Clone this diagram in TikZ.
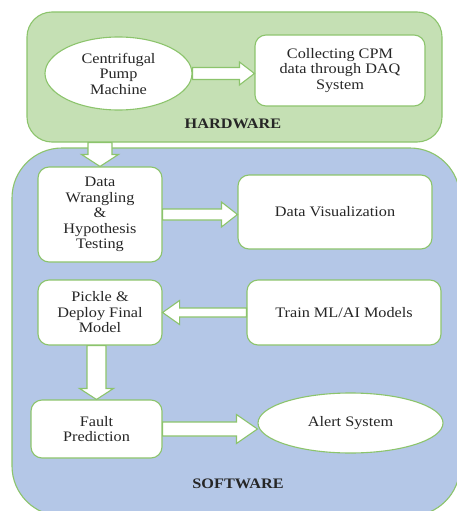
\documentclass[tikz,border=0pt]{standalone}
\usepackage{fontspec}
\setmainfont{Liberation Serif}[FakeStretch=1.12]
\usetikzlibrary{calc,shapes.geometric}

\definecolor{hwfill}{HTML}{C5E0B4}
\definecolor{swfill}{HTML}{B4C7E7}
\definecolor{edge}{HTML}{8CC46C}

% block arrows built from node anchors: shaft half width, head half width, head length
\newcommand{\blockR}[5]{%
  \draw[barrow] let \p1=(#1.east), \p2=(#2.west) in
    (\x1,\y1+#3) -- (\x2-#5,\y1+#3) -- (\x2-#5,\y1+#4) -- (\x2,\y1)
    -- (\x2-#5,\y1-#4) -- (\x2-#5,\y1-#3) -- (\x1,\y1-#3) -- cycle;}
\newcommand{\blockL}[5]{%
  \draw[barrow] let \p1=(#1.west), \p2=(#2.east) in
    (\x1,\y1+#3) -- (\x2+#5,\y1+#3) -- (\x2+#5,\y1+#4) -- (\x2,\y1)
    -- (\x2+#5,\y1-#4) -- (\x2+#5,\y1-#3) -- (\x1,\y1-#3) -- cycle;}
\newcommand{\blockD}[5]{%
  \draw[barrow] let \p1=(#1.south), \p2=(#2.north) in
    (\x2-#3,\y1) -- (\x2-#3,\y2+#5) -- (\x2-#4,\y2+#5) -- (\x2,\y2)
    -- (\x2+#4,\y2+#5) -- (\x2+#3,\y2+#5) -- (\x2+#3,\y1) -- cycle;}

\begin{document}
\begin{tikzpicture}[x=1pt,y=-1pt,
    every node/.style={font=\fontsize{14.5}{15.5}\selectfont, text=black!85},
    group/.style={draw=edge, line width=1.1pt, rounded corners=#1, inner sep=0pt},
    box/.style={draw=edge, fill=white, line width=1.1pt, rounded corners=11pt,
                align=center, inner sep=0pt},
    oval/.style={ellipse, draw=edge, fill=white, line width=1.1pt,
                 align=center, inner sep=0pt},
    barrow/.style={draw=edge, fill=white, line width=1.1pt, line join=miter},
    heading/.style={font=\fontsize{14.5}{15.5}\selectfont\bfseries}]

  \useasboundingbox (0,0) rectangle (456,511);

  % the two groups
  \node[group=25pt, fill=hwfill, minimum width=415pt, minimum height=130pt]
        (hw) at (234.5,77) {};
  \node[group=50pt, fill=swfill, minimum width=448pt, minimum height=368pt]
        (sw) at (236,332) {};

  % hardware stage
  \node[oval, minimum width=147pt, minimum height=73pt] (pump) at (118.5,73.5)
        {Centrifugal\\Pump\\Machine};
  \node[box, minimum width=170pt, minimum height=71pt] (daq) at (340,70.5)
        {Collecting CPM\\data through DAQ\\System};
  \node[heading] (hwlabel) at (233,124) {HARDWARE};

  % software stage
  \node[box, minimum width=124pt, minimum height=95pt] (dw) at (100,214.5)
        {Data\\Wrangling\\\&\\Hypothesis\\Testing};
  \node[box, minimum width=194pt, minimum height=74pt] (dv) at (335,212)
        {Data Visualization};
  \node[box, minimum width=124pt, minimum height=65pt] (pk) at (100,312.5)
        {Pickle \&\\Deploy Final\\Model};
  \node[box, minimum width=194pt, minimum height=65pt] (tr) at (344,312.5)
        {Train ML/AI Models};
  \node[box, minimum width=131pt, minimum height=58pt] (ft) at (96.5,429)
        {Fault\\Prediction};
  \node[oval, minimum width=185pt, minimum height=60pt] (al) at (350.5,423)
        {Alert System};
  \node[heading] (swlabel) at (238,484) {SOFTWARE};

  % flow arrows
  \blockR{pump}{daq}{6pt}{11.5pt}{15pt}
  \blockD{hw}{dw}{12pt}{18.5pt}{12pt}
  \blockR{dw}{dv}{5.5pt}{12.5pt}{16pt}
  \blockL{tr}{pk}{4.5pt}{12pt}{17pt}
  \blockD{pk}{ft}{9.5pt}{17pt}{11pt}
  \blockR{ft}{al}{7pt}{14.5pt}{21pt}
\end{tikzpicture}
\end{document}
